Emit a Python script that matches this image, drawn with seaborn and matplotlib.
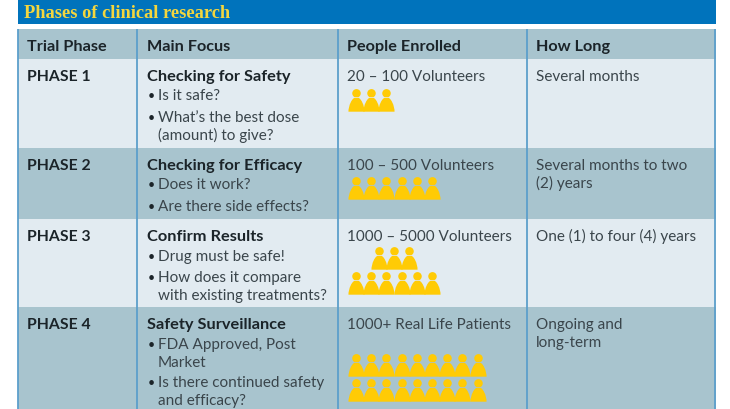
import numpy as np
import pandas as pd
import seaborn as sns
import matplotlib.pyplot as plt
from matplotlib.colors import ListedColormap
from matplotlib.path import Path

# table content
title = "Phases of clinical research"
headers = ["Trial Phase", "Main Focus", "People Enrolled", "How Long"]
phases = ["PHASE 1", "PHASE 2", "PHASE 3", "PHASE 4"]
focus = ["Checking for Safety", "Checking for Efficacy", "Confirm Results", "Safety Surveillance"]
enrolled = ["20 – 100 Volunteers", "100 – 500 Volunteers", "1000 – 5000 Volunteers", "1000+ Real Life Patients"]
how_long = [["Several months"], ["Several months to two", "(2) years"],
            ["One (1) to four (4) years"], ["Ongoing and", "long-term"]]
bullets = [
    [("Is it safe?", 100), ("What’s the best dose", 122), ("(amount) to give?", 140)],
    [("Does it work?", 189), ("Are there side effects?", 211)],
    [("Drug must be safe!", 261), ("How does it compare", 282), ("with existing treatments?", 300)],
    [("FDA Approved, Post", 349), ("Market", 367), ("Is there continued safety", 387), ("and efficacy?", 405)],
]
bullet_starts = ["Is it safe?", "What’s the best dose", "Does it work?", "Are there side effects?",
                 "Drug must be safe!", "How does it compare", "FDA Approved, Post", "Is there continued safety"]
# pictogram rows: count, first head, bottom edge
people_counts = [3, 6, 3, 6, 9, 9]
people_start = [356, 356, 379, 356, 356, 356]
people_bottom = [112, 200, 270, 295, 377, 402]

# layout in pixels
band_heights = [1, 24, 5, 30, 89, 71, 88, 102]
band_tones = [0, 1, 0, 2, 3, 2, 3, 2]
row_base = [81, 170, 241, 329]
long_step = [0, 18, 0, 18]
col_text = [27, 147, 347, 536]
col_lines = [137, 338, 527]

BLUE = "#0073BC"
BAND = "#A8C4CE"
LIGHT = "#E2EBF1"
LINE = "#5C9FCB"
YELLOW = "#FFCB05"
DARK = "#1B2429"
SOFT = "#3A454B"

sns.set_theme(style="white")
plt.rcParams['font.family'] = ['Lato', 'DejaVu Sans']

fig = plt.figure(figsize=(7.3, 4.1), dpi=100)
ax = fig.add_axes([0, 0, 1, 1])

# background drawn as one heatmap with a cell per pixel
grid = np.tile(np.repeat(band_tones, band_heights)[:, None], (1, 730))
grid[:, :18] = 0
grid[:, 716:] = 0
sns.heatmap(grid, ax=ax, cmap=ListedColormap(["white", BLUE, BAND, LIGHT]), vmin=0, vmax=3,
            cbar=False, xticklabels=False, yticklabels=False)

ax.vlines(col_lines, 30, 410, color=LINE, lw=1.3)
ax.vlines([18, 715], 30, 410, color=LINE, lw=1.3)

# person marker, head and shoulders in one path
head = Path.circle((0, 0.64), 0.38)
body = Path([(-0.72, -1), (-0.72, -0.5), (-0.42, 0.3), (0, 0.3), (0.42, 0.3), (0.72, -0.5), (0.72, -1), (-0.72, -1)],
            [Path.MOVETO, Path.CURVE4, Path.CURVE4, Path.CURVE4, Path.CURVE4, Path.CURVE4, Path.CURVE4, Path.CLOSEPOLY])
person = Path.make_compound_path(head, body)

rows = []
for n, start, bottom in zip(people_counts, people_start, people_bottom):
    for i in range(n):
        rows.append({"x": start + i * 15.2, "y": bottom - 11.5})
people = pd.DataFrame(rows)
sns.scatterplot(data=people, x="x", y="y", marker=person, s=270, color=YELLOW, linewidth=0, ax=ax, legend=False)

ax.set_xlim(0, 730)
ax.set_ylim(410, 0)
ax.set_xlabel("")
ax.set_ylabel("")
ax.axis("off")

ax.text(24, 17.5, title, family="Liberation Serif", fontweight="bold", fontsize=13.2, color="#F4D63E", va="baseline")

for x, h in zip(col_text, headers):
    ax.text(x, 51, h, fontweight="bold", fontsize=11.7, color=DARK, va="baseline")

for i in range(4):
    y = row_base[i]
    ax.text(col_text[0], y, phases[i], fontweight="bold", fontsize=11.3, color=DARK, va="baseline")
    ax.text(col_text[1], y, focus[i], fontweight="bold", fontsize=11.8, color=DARK, va="baseline")
    ax.text(col_text[2], y, enrolled[i], fontsize=11, color=SOFT, va="baseline")
    for j, line in enumerate(how_long[i]):
        ax.text(col_text[3], y + j * long_step[i], line, fontsize=11, color=SOFT, va="baseline")
    for line, by in bullets[i]:
        ax.text(158, by, line, fontsize=11, color=SOFT, va="baseline")
        if line in bullet_starts:
            ax.text(147.5, by, "•", fontsize=9, color=DARK, va="baseline")

fig.savefig("out.png", dpi=100)
plt.close(fig)
